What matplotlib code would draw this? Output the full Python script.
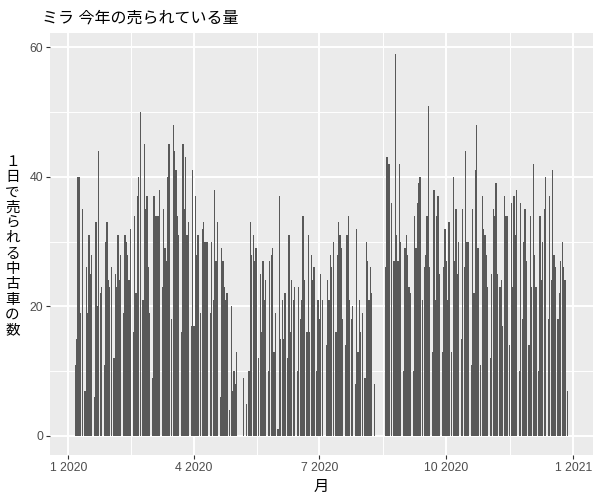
import numpy as np
import pandas as pd
import matplotlib
matplotlib.use("Agg")
import matplotlib.pyplot as plt
import matplotlib.dates as mdates
from matplotlib.ticker import FuncFormatter, MultipleLocator

plt.rcParams['font.family'] = ['Liberation Sans', 'Noto Sans CJK JP']

# daily sales per month, 0 = closed (Sundays, holidays)
jan = [0, 0, 0, 0, 0, 11, 15, 40, 40, 19, 35, 0, 7, 26, 19, 31, 25, 28, 0,
       6, 33, 20, 44, 22, 23, 0, 11, 30, 33, 24, 23]
feb = [26, 0, 12, 25, 23, 31, 24, 28, 0, 19, 31, 30, 28, 24, 32, 0,
       16, 34, 22, 37, 40, 50, 0, 21, 45, 35, 37, 26, 19]
mar = [0, 9, 37, 34, 34, 34, 38, 0, 23, 35, 29, 27, 40, 45, 0, 18, 48, 44,
       41, 34, 31, 0, 16, 45, 35, 43, 31, 33, 0, 17, 41]
apr = [17, 37, 28, 31, 0, 19, 32, 33, 30, 30, 30, 0, 19, 30, 21, 38, 27, 33,
       0, 6, 29, 27, 23, 21, 22, 0, 4, 20, 7, 10]
may = [8, 13, 0, 0, 0, 0, 9, 0, 5, 0, 10, 33, 28, 31, 27, 29, 0, 12, 25, 16,
       27, 21, 24, 0, 10, 27, 28, 29, 13, 19, 0]
jun = [1, 37, 15, 21, 15, 22, 0, 12, 31, 16, 24, 21, 23, 0, 10, 23, 18, 21,
       34, 24, 0, 16, 31, 16, 28, 24, 26, 0, 10, 21]
jul = [18, 25, 21, 0, 0, 14, 24, 21, 28, 26, 30, 0, 16, 28, 33, 31, 29, 18,
       0, 14, 31, 34, 21, 18, 20, 0, 8, 32, 13, 21, 16]
aug = [19, 0, 9, 30, 27, 21, 26, 22, 0, 8, 0, 0, 0, 0, 0, 0, 0, 26, 43, 42,
       42, 36, 0, 27, 59, 31, 27, 42, 30, 0, 10]
sep = [29, 31, 28, 23, 22, 0, 10, 34, 29, 36, 39, 40, 0, 21, 26, 28, 34, 51,
       26, 0, 13, 38, 21, 34, 37, 25, 0, 13, 26, 32]
oct_ = [27, 21, 33, 0, 13, 40, 27, 35, 25, 30, 0, 15, 35, 26, 44, 30, 30, 0,
        11, 35, 22, 41, 48, 29, 0, 11, 37, 32, 31, 28, 23]
nov = [0, 12, 25, 35, 34, 39, 25, 0, 23, 24, 17, 37, 34, 34, 0, 14, 36, 23,
       37, 31, 38, 0, 10, 36, 18, 30, 35, 27, 0, 14]
dec = [34, 23, 42, 28, 23, 0, 10, 34, 24, 30, 35, 40, 0, 18, 37, 24, 41, 28,
       26, 0, 18, 22, 27, 30, 26, 24, 0, 7, 0, 0, 0]

title = "ミラ 今年の売られている量"
ylabel = "１日で売られる中古車の数"
xlabel = "月"

days = pd.date_range("2020-01-01", "2020-12-31", freq="D")
sales = np.array(jan + feb + mar + apr + may + jun + jul + aug + sep + oct_ + nov + dec)
df = pd.DataFrame({"date": days, "n": sales})
df = df[df["n"] > 0]

fig = plt.figure(figsize=(6, 5), dpi=100)
ax = fig.add_axes([50 / 600, 45 / 500, 543 / 600, 422 / 500])
ax.set_facecolor("#EBEBEB")

x = mdates.date2num(df["date"])
ax.bar(x, df["n"], width=0.9, color="#595959", zorder=3)

# ggplot-like 5% expansion
lo, hi = x.min() - 0.45, x.max() + 0.45
pad = (hi - lo) * 0.05
ax.set_xlim(lo - pad, hi + pad)
ax.set_ylim(-2.95, 62.2)

majors = mdates.date2num(pd.to_datetime(["2020-01-01", "2020-04-01", "2020-07-01",
                                         "2020-10-01", "2021-01-01"]))
ax.set_xticks(majors)
ax.set_xticks((majors[:-1] + majors[1:]) / 2, minor=True)
ax.xaxis.set_major_formatter(FuncFormatter(
    lambda v, p: "{} {}".format(mdates.num2date(v).month, mdates.num2date(v).year)))
ax.yaxis.set_major_locator(MultipleLocator(20))
ax.yaxis.set_minor_locator(MultipleLocator(10))

ax.grid(which="major", color="white", linewidth=1.4, zorder=0)
ax.grid(which="minor", color="white", linewidth=0.7, zorder=0)
ax.set_axisbelow(True)
for s in ax.spines.values():
    s.set_visible(False)

ax.tick_params(which="major", length=2.75, width=0.8, color="#333333",
               labelcolor="#4D4D4D", labelsize=8.8, pad=2.2)
ax.tick_params(which="minor", length=0)

fig.text(42 / 600, 1 - 18.5 / 500, title, fontsize=11.5, ha="left", va="center")
fig.text(12.5 / 600, 1 - 246 / 500, "\n".join(ylabel), fontsize=10.5,
         ha="center", va="center", linespacing=1.12)
fig.text(321 / 600, 1 - 487 / 500, xlabel, fontsize=11, ha="center", va="center")

fig.savefig("out.png", dpi=100)
